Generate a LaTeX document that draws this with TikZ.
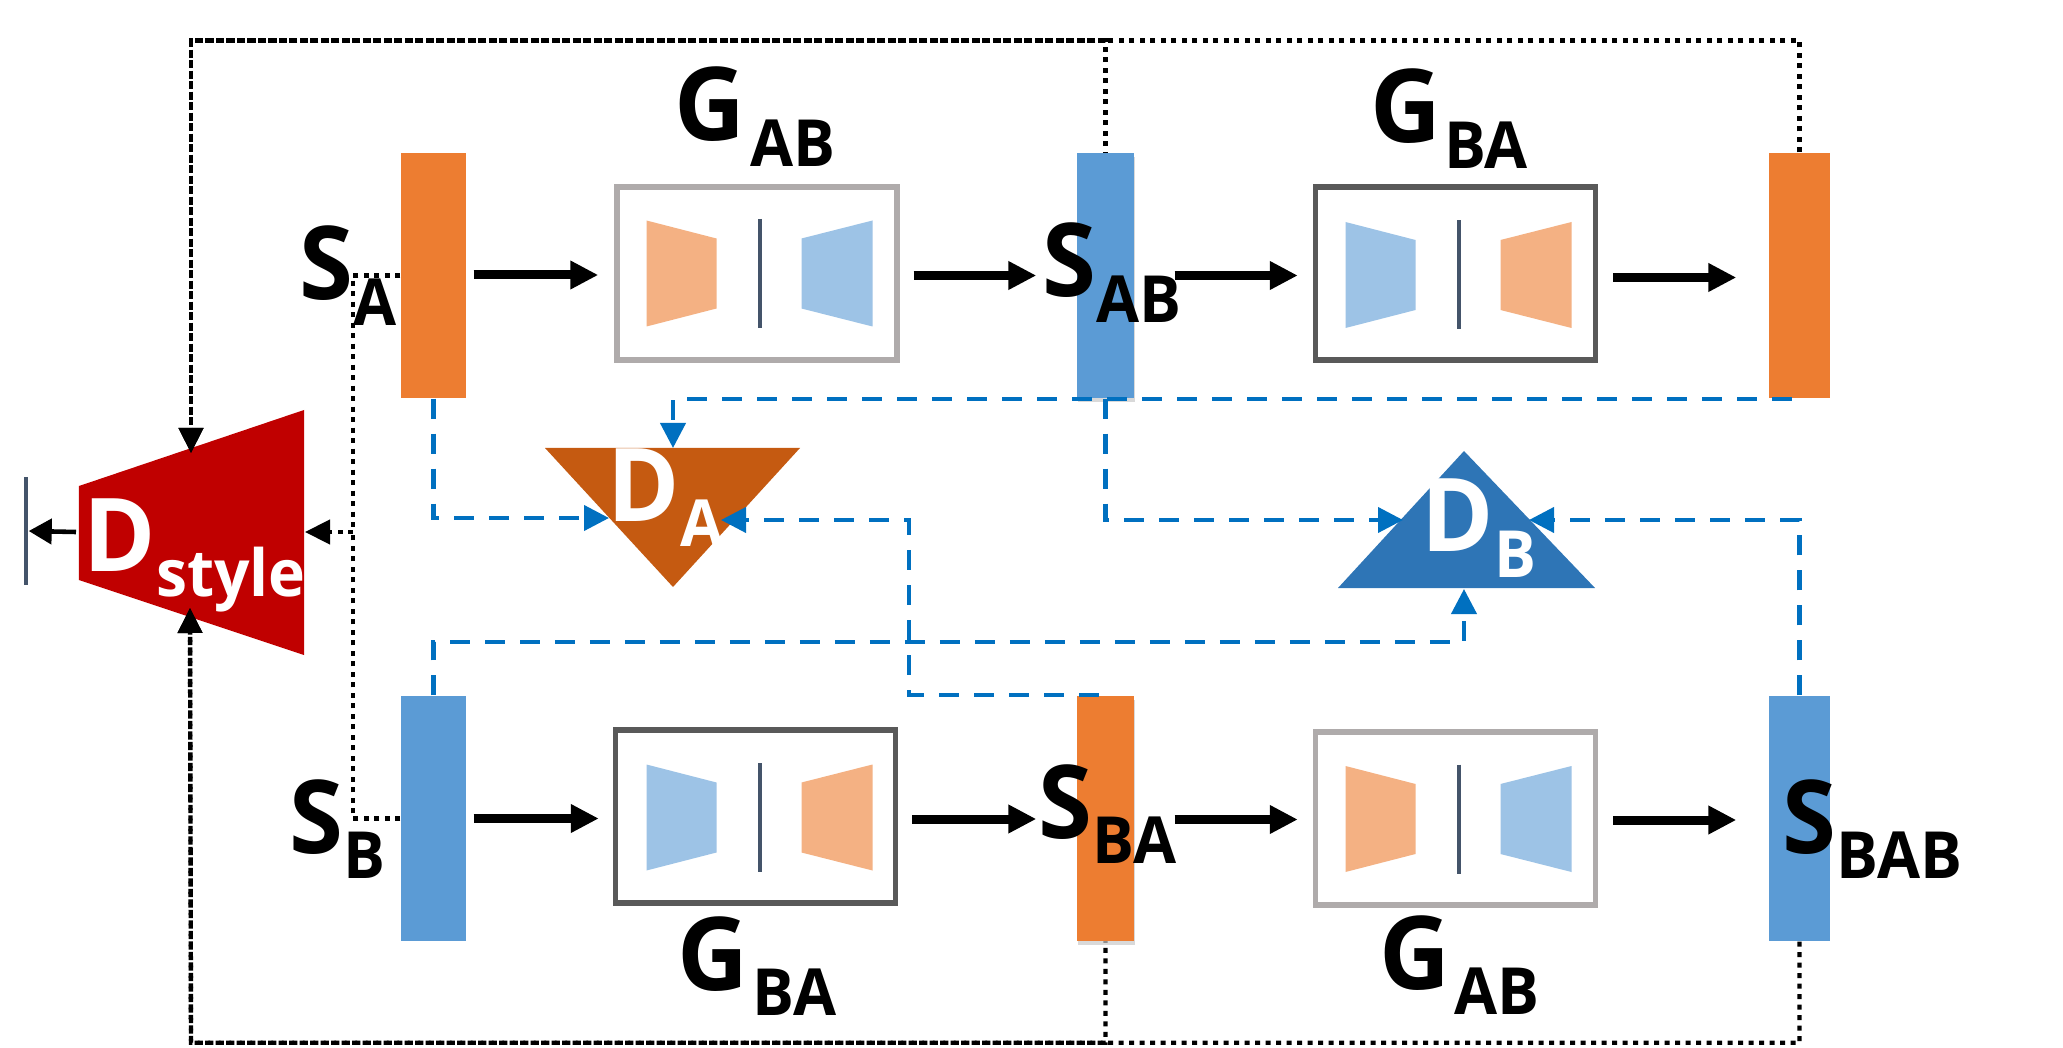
\documentclass[tikz,border=0pt]{standalone}
\usepackage{fontspec}
\setmainfont[FakeStretch=0.96]{Open Sans}
\usetikzlibrary{arrows.meta,shadows}
\definecolor{barorange}{HTML}{ED7D31}
\definecolor{barblue}{HTML}{5B9BD5}
\definecolor{softorange}{HTML}{F4B183}
\definecolor{softblue}{HTML}{9DC3E6}
\definecolor{boxlight}{HTML}{AFABAB}
\definecolor{boxdark}{HTML}{595959}
\definecolor{slateline}{HTML}{44546A}
\definecolor{dashblue}{HTML}{0070C0}
\definecolor{discblue}{HTML}{2E75B6}
\definecolor{discbrown}{HTML}{C55A11}
\definecolor{discred}{HTML}{C00000}
\newcommand{\sublab}[3][0pt]{\fontsize{29}{29}\selectfont\textbf{#2}\kern#1\raisebox{-7.3pt}{\fontsize{18.5}{18.5}\selectfont\textbf{#3}}}
\tikzset{
  barnode/.style={rectangle,inner sep=0pt,minimum height=2.45cm},
  barshadow/.style={drop shadow={shadow xshift=.012cm,shadow yshift=-.04cm,opacity=.3}},
  genbox/.style={rectangle,draw,fill=white,line width=1.56pt,inner sep=0pt,minimum width=2.80cm,minimum height=1.73cm},
  biglab/.style={inner sep=0pt,anchor=base west},
  flowarrow/.style={line width=2.56pt,-{Triangle[length=.28cm,width=.27cm]}},
  fakedash/.style={dashblue,line width=1.15pt,dash pattern=on .20cm off .15cm},
  fakearrow/.style={fakedash,-{Triangle[length=.25cm,width=.25cm]}},
  styledot/.style={black,line width=1.25pt,dash pattern=on .05cm off .055cm},
  stylearrow/.style={styledot,-{Triangle[length=.25cm,width=.24cm]}},
}
\begin{document}
\begin{tikzpicture}
  \useasboundingbox (0,0) rectangle (20.63,10.47);
  % Feature bars
  \node[barnode,fill=barorange,minimum width=.65cm] (SAbar) at (4.335,7.715) {};
  \node[barnode,fill=barblue,minimum width=.57cm,barshadow] (SABbar) at (11.055,7.715) {};
  \node[barnode,fill=barorange,minimum width=.61cm] (SABAbar) at (17.995,7.715) {};
  \node[barnode,fill=barblue,minimum width=.65cm] (SBbar) at (4.335,2.285) {};
  \node[barnode,fill=barorange,minimum width=.57cm,barshadow] (SBAbar) at (11.055,2.285) {};
  \node[barnode,fill=barblue,minimum width=.61cm] (SBABbar) at (17.995,2.285) {};
  % Generators with encoder and decoder
  \foreach \boxname/\bx/\by/\dx/\dy/\edge/\lcol/\rcol in {
      GABtop/7.57/7.735/7.60/7.735/boxlight/softorange/softblue,
      GBAtop/14.555/7.735/14.59/7.72/boxdark/softblue/softorange,
      GBAbot/7.555/2.305/7.60/2.295/boxdark/softblue/softorange,
      GABbot/14.555/2.285/14.59/2.28/boxlight/softorange/softblue} {
    \node[genbox,draw=\edge] (\boxname) at (\bx,\by) {};
    \fill[\lcol] (\dx-1.135,\dy+.53) -- (\dx-.435,\dy+.35) -- (\dx-.435,\dy-.35) -- (\dx-1.135,\dy-.53) -- cycle;
    \fill[\rcol] (\dx+1.125,\dy+.53) -- (\dx+.415,\dy+.35) -- (\dx+.415,\dy-.35) -- (\dx+1.125,\dy-.53) -- cycle;
    \draw[slateline,line width=1.1pt] (\dx,\dy+.545) -- (\dx,\dy-.545);
  }
  % Discriminators
  \fill[discred] (.79,5.61) -- (3.04,6.37) -- (3.04,3.92) -- (.79,4.67) -- cycle;
  \fill[discbrown] (5.45,5.99) -- (8.00,5.99) -- (6.73,4.60) -- cycle;
  \fill[discblue] (14.64,5.96) -- (13.38,4.59) -- (15.95,4.59) -- cycle;
  \node[rectangle,fill=slateline,inner sep=0pt,minimum width=.04cm,minimum height=1.085cm] (Dout) at (.26,5.16) {};
  % Connector ends on the discriminators
  \coordinate (DAtop) at (6.73,5.99);
  \coordinate (DAleft) at (6.09,5.29);
  \coordinate (DAright) at (7.21,5.27);
  \coordinate (DAturn) at (9.09,5.27);
  \coordinate (DBleft) at (14.03,5.27);
  \coordinate (DBright) at (15.29,5.27);
  \coordinate (DBbottom) at (14.64,4.58);
  \coordinate (Dtop) at (1.91,5.94);
  \coordinate (Dbottom) at (1.90,4.39);
  \coordinate (Dright) at (3.05,5.15);
  \coordinate (Dleft) at (.76,5.15);
  \coordinate (Sjoin) at (3.53,5.15);
  \coordinate (topcorner) at (1.91,10.064);
  \coordinate (botcorner) at (1.91,.043);
  % Main flow
  \foreach \a/\b/\yy/\sa/\sb in {
      SAbar/GABtop/7.72/.07/.16, GABtop/SABbar/7.715/.14/.40, SABbar/GBAtop/7.715/.40/.15, GBAtop/SABAbar/7.695/.15/.32,
      SBbar/GBAbot/2.285/.07/.14, GBAbot/SBAbar/2.28/.14/.40, SBAbar/GABbot/2.275/.40/.15, GABbot/SBABbar/2.27/.15/.32} {
    \draw[flowarrow,shorten <=\sa cm,shorten >=\sb cm] (\a.east |- 0,\yy) -- (\b.west |- 0,\yy);
  }
  % Dashed adversarial paths
  \draw[fakearrow,shorten <=.08cm] (SABAbar.south) -| (DAtop);
  \draw[fakearrow] (SAbar.south) |- (DAleft);
  \draw[fakearrow,shorten <=.07cm] (SBAbar.north) -| (DAturn) -- (DAright);
  \draw[fakearrow] (SABbar.south) |- (DBleft);
  \draw[fakearrow] (SBABbar.north) |- (DBright);
  \draw[fakearrow] (SBbar.north) -- ++(0,.535) -| (DBbottom);
  % Dotted style paths
  \draw[stylearrow] (SABAbar.north) |- (topcorner) -- (Dtop);
  \draw[stylearrow,dash phase=.0425cm] (SABbar.north) |- (topcorner) -- (Dtop);
  \draw[stylearrow] (SBABbar.south) |- (botcorner) -- (Dbottom);
  \draw[stylearrow,dash phase=.0425cm] (SBAbar.south) |- (botcorner) -- (Dbottom);
  \draw[styledot] (SAbar.west) -| (Sjoin);
  \draw[styledot] (SBbar.west) -| (Sjoin);
  \draw[stylearrow] (Sjoin) -- (Dright);
  \draw[line width=1.3pt,-{Triangle[length=.23cm,width=.25cm]}] (Dleft) -- (Dout.east);
  % Labels
  \node[biglab] (GABlabt) at (6.74,9.06) {\sublab[1.4pt]{G}{AB}};
  \node[biglab] (GBAlabt) at (13.70,9.04) {\sublab[.7pt]{G}{BA}};
  \node[biglab] (GBAlabb) at (6.77,.57) {\sublab[1.1pt]{G}{BA}};
  \node[biglab] (GABlabb) at (13.79,.58) {\sublab[1pt]{G}{AB}};
  \node[biglab] (SAlab) at (2.99,7.47) {\sublab{S}{A}};
  \node[biglab] (SABlab) at (10.42,7.50) {\sublab{S}{AB}};
  \node[biglab] (SBlab) at (2.89,1.94) {\sublab{S}{B}};
  \node[biglab] (SBAlab) at (10.38,2.09) {\sublab{S}{BA}};
  \node[biglab] (SBABlab) at (17.82,1.94) {\sublab{S}{BAB}};
  \node[biglab,white] (DAlab) at (6.07,5.26) {\sublab{D}{A}};
  \node[biglab,white] (DBlab) at (14.21,4.95) {\sublab{D}{B}};
  \node[biglab,white] (Dstylelab) at (.83,4.76) {\sublab{D}{style}};
\end{tikzpicture}
\end{document}
